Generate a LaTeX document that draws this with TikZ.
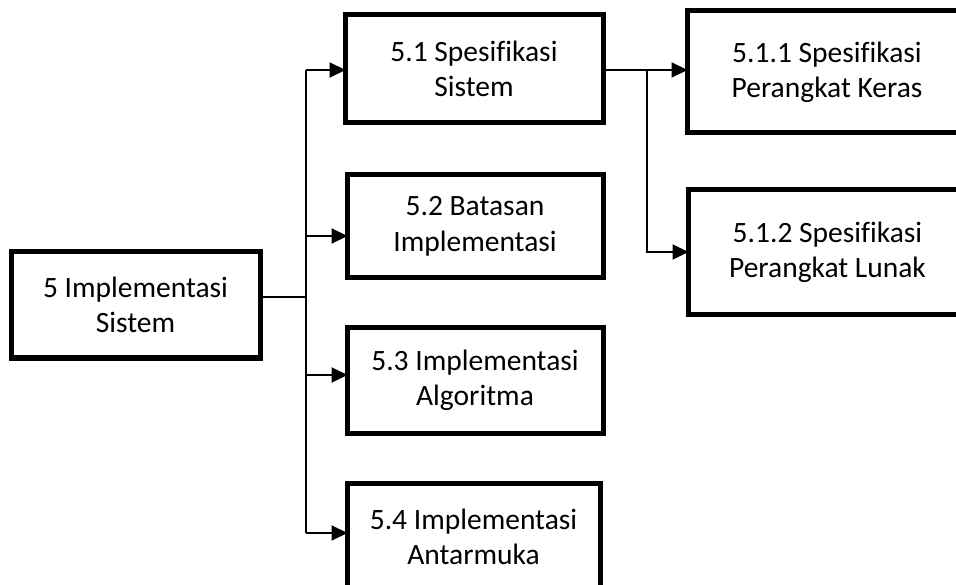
\documentclass[tikz,border=0pt]{standalone}
\usepackage{fontspec}
\setmainfont{Carlito}[Ligatures=NoCommon]
\usetikzlibrary{arrows.meta}
\begin{document}
\begin{tikzpicture}[x=1pt,y=-1pt,
  box/.style={draw=black,line width=5pt,rectangle,inner sep=0pt,align=center,
    font=\fontsize{29.5}{35.4}\selectfont},
  conn/.style={draw=black,line width=2pt},
  arr/.style={conn,-{Triangle[length=16pt,width=15pt]},shorten >=-3pt}]
\useasboundingbox (0,0) rectangle (956,585);
\clip (0,0) rectangle (956,585);
\fill[white] (0,0) rectangle (956,585);
\node[box,minimum width=249pt,minimum height=106pt] (b5) at (135.5,305) {5 Implementasi\\Sistem};
\node[box,minimum width=258pt,minimum height=108pt] (b51) at (474,69) {5.1 Spesifikasi\\Sistem};
\node[box,minimum width=256pt,minimum height=103pt] (b52) at (475,226.5) {5.2 Batasan\\Implementasi};
\node[box,minimum width=256pt,minimum height=105pt] (b53) at (475,380.5) {5.3 Implementasi\\Algoritma};
\node[box,minimum width=253pt,minimum height=108pt] (b54) at (473.5,537) {5.4 Implementasi\\Antarmuka};
\node[box,minimum width=280pt,minimum height=122pt] (b511) at (827,72) {5.1.1 Spesifikasi\\Perangkat Keras};
\node[box,minimum width=279pt,minimum height=125pt] (b512) at (827.5,252) {5.1.2 Spesifikasi\\Perangkat Lunak};
\coordinate (j0) at (306,297);
\coordinate (j1) at (306,70);
\coordinate (j2) at (306,236);
\coordinate (j3) at (306,375);
\coordinate (j4) at (306,533);
\coordinate (k1) at (647,70);
\coordinate (k2) at (647,252);
\draw[conn] (b5.east |- j0) -- (j0);
\draw[conn] (j1) -- (j4);
\draw[arr] (j1) -- (b51.west |- j1);
\draw[arr] (j2) -- (b52.west |- j2);
\draw[arr] (j3) -- (b53.west |- j3);
\draw[arr] (j4) -- (b54.west |- j4);
\draw[arr] (b51.east |- k1) -- (b511.west |- k1);
\draw[arr] (k1) |- (b512.west |- k2);
\end{tikzpicture}
\end{document}
